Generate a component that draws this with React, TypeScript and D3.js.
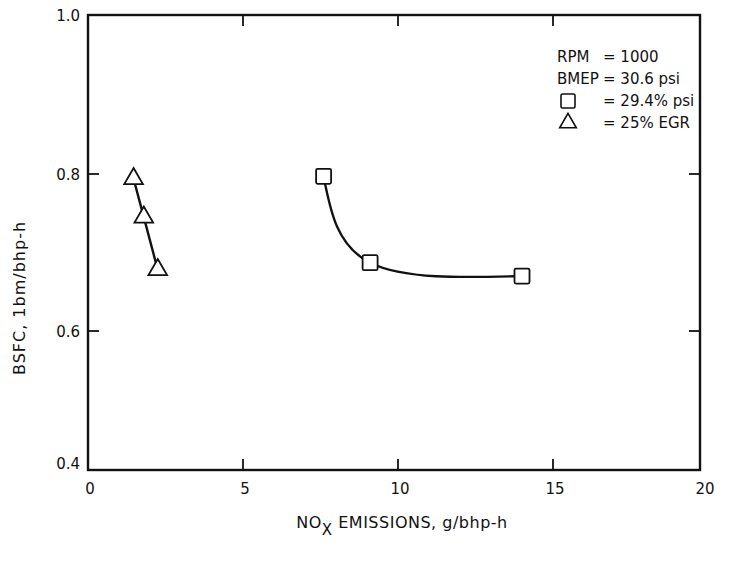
import React, { useEffect, useRef } from 'react';
import * as d3 from 'd3';

// NOx emissions (g/bhp-h) vs BSFC (lbm/bhp-h)
const squareNox = [7.6, 9.1, 14.0];
const squareBsfc = [0.797, 0.687, 0.670];
const triangleNox = [1.47, 1.8, 2.25];
const triangleBsfc = [0.794, 0.745, 0.678];

const xTicks = [0, 5, 10, 15, 20];
const yTicks = [0.4, 0.6, 0.8, 1.0];
const legendLines = [
  { key: 'RPM', value: '= 1000' },
  { key: 'BMEP', value: '= 30.6 psi' },
  { key: 'square', value: '= 29.4% psi' },
  { key: 'triangle', value: '= 25% EGR' }
];

const FONT = '"DejaVu Sans", Lato, sans-serif';

const App: React.FC = () => {
  const svgRef = useRef<SVGSVGElement>(null);

  useEffect(() => {
    if (!svgRef.current) return;
    const svg = d3.select(svgRef.current);
    svg.selectAll('*').remove();

    const left = 88, right = 700, top = 15, bottom = 470;

    const x = d3.scaleLinear().domain([0, 15, 20]).range([left, 553, right]);
    // scanned original is slightly compressed near the bottom
    const y = d3.scaleLinear().domain([0.4, 0.6, 0.8, 1.0]).range([bottom, 331, 174, top]);

    const ink = '#111';

    // frame
    svg.append('rect')
      .attr('x', left).attr('y', top)
      .attr('width', right - left).attr('height', bottom - top)
      .attr('fill', 'none').attr('stroke', ink).attr('stroke-width', 2.4);

    // inner ticks
    const innerX = xTicks.slice(1, -1);
    const innerY = yTicks.slice(1, -1);
    const tickLen = 11;
    svg.selectAll('.tb').data(innerX).enter().append('line')
      .attr('x1', d => x(d)).attr('x2', d => x(d))
      .attr('y1', bottom).attr('y2', bottom - tickLen)
      .attr('stroke', ink).attr('stroke-width', 1.8);
    svg.selectAll('.tt').data(innerX).enter().append('line')
      .attr('x1', d => x(d)).attr('x2', d => x(d))
      .attr('y1', top).attr('y2', top + tickLen)
      .attr('stroke', ink).attr('stroke-width', 1.8);
    svg.selectAll('.tl').data(innerY).enter().append('line')
      .attr('x1', left).attr('x2', left + tickLen)
      .attr('y1', d => y(d)).attr('y2', d => y(d))
      .attr('stroke', ink).attr('stroke-width', 1.8);
    svg.selectAll('.tr').data(innerY).enter().append('line')
      .attr('x1', right).attr('x2', right - tickLen)
      .attr('y1', d => y(d)).attr('y2', d => y(d))
      .attr('stroke', ink).attr('stroke-width', 1.8);

    // tick labels
    svg.selectAll('.xl').data(xTicks).enter().append('text')
      .attr('x', d => x(d) + (d === 20 ? 5 : 2)).attr('y', bottom + 24)
      .attr('text-anchor', 'middle')
      .style('font-family', FONT).style('font-size', '15px').style('fill', ink)
      .text(d => String(d));
    svg.selectAll('.yl').data(yTicks).enter().append('text')
      .attr('x', left - 8).attr('y', d => y(d) + (d === 0.4 ? -1 : 6))
      .attr('text-anchor', 'end')
      .style('font-family', FONT).style('font-size', '15px').style('fill', ink)
      .text(d => d.toFixed(1));

    // axis titles
    svg.append('text')
      .attr('transform', `translate(25,298) rotate(-90)`)
      .attr('text-anchor', 'middle')
      .style('font-family', FONT).style('font-size', '16px').style('letter-spacing', '1px')
      .style('fill', ink)
      .text('BSFC, 1bm/bhp-h');

    const xt = svg.append('text')
      .attr('x', 402).attr('y', 528)
      .attr('text-anchor', 'middle')
      .style('font-family', FONT).style('font-size', '16px').style('letter-spacing', '0.5px')
      .style('fill', ink);
    xt.append('tspan').text('NO');
    xt.append('tspan').attr('dy', 7).style('font-size', '15px').text('X');
    xt.append('tspan').attr('dy', -7).text(' EMISSIONS, g/bhp-h');

    // curves
    const sq = squareNox.map((v, i) => [v, squareBsfc[i]] as [number, number]);
    const tr = triangleNox.map((v, i) => [v, triangleBsfc[i]] as [number, number]);

    const line = d3.line<[number, number]>()
      .x(d => x(d[0])).y(d => y(d[1]))
      .curve(d3.curveNatural);

    svg.append('path').attr('d', line(sq))
      .attr('fill', 'none').attr('stroke', ink).attr('stroke-width', 2.4);
    svg.append('path').attr('d', line(tr))
      .attr('fill', 'none').attr('stroke', ink).attr('stroke-width', 2.4);

    const s = 15;
    svg.selectAll('.sq').data(sq).enter().append('rect')
      .attr('x', d => x(d[0]) - s / 2).attr('y', d => y(d[1]) - s / 2)
      .attr('width', s).attr('height', s).attr('rx', 1.5)
      .attr('fill', 'white').attr('stroke', ink).attr('stroke-width', 1.8);

    const tri = d3.symbol().type(d3.symbolTriangle).size(150);
    svg.selectAll('.tri').data(tr).enter().append('path')
      .attr('d', tri)
      .attr('transform', d => `translate(${x(d[0])},${y(d[1])})`)
      .attr('fill', 'white').attr('stroke', ink).attr('stroke-width', 1.8);

    // legend
    const lg = svg.append('g').attr('transform', 'translate(557,62)');
    legendLines.forEach((l, i) => {
      const ly = i * 22;
      if (l.key === 'square') {
        lg.append('rect').attr('x', 4).attr('y', ly - 12).attr('width', 14).attr('height', 14)
          .attr('rx', 1.5).attr('fill', 'none').attr('stroke', ink).attr('stroke-width', 1.6);
      } else if (l.key === 'triangle') {
        lg.append('path').attr('d', d3.symbol().type(d3.symbolTriangle).size(120)())
          .attr('transform', `translate(11,${ly - 5})`)
          .attr('fill', 'none').attr('stroke', ink).attr('stroke-width', 1.6);
      } else {
        lg.append('text').attr('x', 0).attr('y', ly)
          .style('font-family', FONT).style('font-size', '15px').style('fill', ink)
          .text(l.key);
      }
      lg.append('text').attr('x', 46).attr('y', ly)
        .style('font-family', FONT).style('font-size', '15px').style('fill', ink)
        .text(l.value);
    });
  }, []);

  return (
    <svg ref={svgRef} width={731} height={567}
      style={{ position: 'absolute', left: 0, top: 0, background: 'white' }} />
  );
};

export default App;
